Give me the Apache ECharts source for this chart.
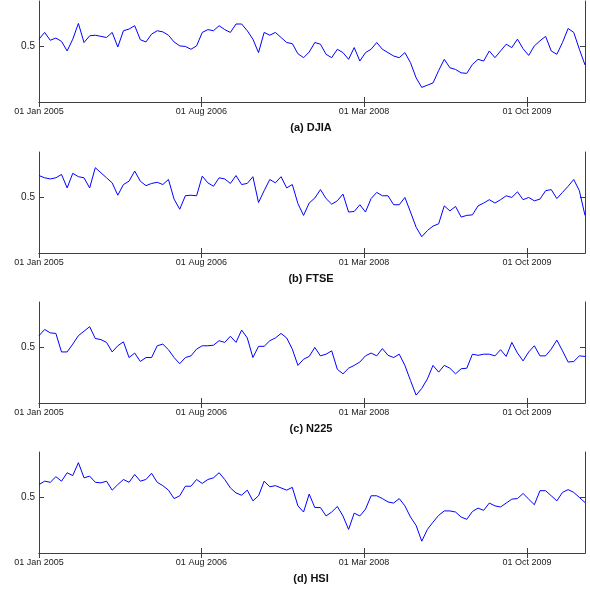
<!DOCTYPE html>
<html>
<head>
<meta charset="utf-8">
<script src="https://cdn.jsdelivr.net/npm/echarts@6/dist/echarts.min.js"></script>
<style>
  html, body { margin: 0; padding: 0; background: #fff; }
  #main { width: 590px; height: 592px; }
</style>
</head>
<body>
<div id="main"></div>
<script>
  // sampled every 20 days starting 01 Jan 2005
  var startDate = [2005, 0, 1];
  var stepDays = 20;

  var djia = [0.56, 0.62, 0.55, 0.57, 0.54, 0.455, 0.56, 0.70, 0.53, 0.59,
    0.595, 0.585, 0.575, 0.62, 0.49, 0.635, 0.65, 0.68, 0.555, 0.535,
    0.605, 0.635, 0.625, 0.595, 0.535, 0.50, 0.495, 0.47, 0.50, 0.62,
    0.645, 0.635, 0.68, 0.645, 0.62, 0.695, 0.695, 0.635, 0.56, 0.44,
    0.62, 0.595, 0.62, 0.575, 0.53, 0.52, 0.43, 0.395, 0.445, 0.53,
    0.515, 0.425, 0.395, 0.47, 0.44, 0.38, 0.485, 0.365, 0.44, 0.47,
    0.53, 0.47, 0.44, 0.41, 0.395, 0.44, 0.35, 0.215, 0.13, 0.15,
    0.17, 0.28, 0.38, 0.305, 0.29, 0.26, 0.255, 0.335, 0.38, 0.365,
    0.455, 0.395, 0.455, 0.515, 0.485, 0.56, 0.475, 0.415, 0.50, 0.545,
    0.585, 0.455, 0.425, 0.53, 0.655, 0.62, 0.47, 0.33];

  var ftse = [0.69, 0.67, 0.66, 0.67, 0.70, 0.58, 0.71, 0.68, 0.67, 0.58,
    0.76, 0.715, 0.67, 0.625, 0.515, 0.61, 0.64, 0.73, 0.64, 0.60,
    0.62, 0.63, 0.61, 0.655, 0.48, 0.39, 0.51, 0.515, 0.51, 0.685,
    0.625, 0.595, 0.67, 0.66, 0.62, 0.69, 0.61, 0.62, 0.68, 0.45,
    0.555, 0.655, 0.625, 0.68, 0.58, 0.61, 0.44, 0.335, 0.445, 0.49,
    0.565, 0.485, 0.435, 0.465, 0.525, 0.365, 0.37, 0.43, 0.365, 0.485,
    0.54, 0.51, 0.51, 0.43, 0.43, 0.495, 0.365, 0.23, 0.145, 0.20,
    0.24, 0.26, 0.42, 0.375, 0.415, 0.32, 0.335, 0.34, 0.42, 0.445,
    0.475, 0.445, 0.475, 0.51, 0.495, 0.545, 0.475, 0.495, 0.465, 0.48,
    0.555, 0.565, 0.485, 0.54, 0.595, 0.655, 0.555, 0.335];

  var n225 = [0.60, 0.655, 0.625, 0.62, 0.455, 0.455, 0.525, 0.60, 0.64, 0.68,
    0.575, 0.565, 0.54, 0.455, 0.51, 0.545, 0.405, 0.445, 0.37, 0.405,
    0.405, 0.51, 0.525, 0.475, 0.405, 0.35, 0.405, 0.42, 0.48, 0.51,
    0.51, 0.515, 0.555, 0.54, 0.595, 0.54, 0.65, 0.58, 0.405, 0.505,
    0.505, 0.555, 0.58, 0.62, 0.58, 0.48, 0.335, 0.39, 0.415, 0.495,
    0.42, 0.435, 0.465, 0.30, 0.26, 0.31, 0.335, 0.365, 0.42, 0.445,
    0.42, 0.485, 0.425, 0.405, 0.435, 0.335, 0.20, 0.07, 0.13, 0.215,
    0.335, 0.275, 0.335, 0.31, 0.26, 0.305, 0.31, 0.435, 0.425, 0.435,
    0.435, 0.42, 0.475, 0.415, 0.54, 0.445, 0.375, 0.455, 0.51, 0.42,
    0.42, 0.48, 0.56, 0.465, 0.365, 0.37, 0.42, 0.415];

  var hsi = [0.61, 0.64, 0.63, 0.68, 0.64, 0.715, 0.69, 0.805, 0.67, 0.685,
    0.63, 0.625, 0.64, 0.56, 0.61, 0.655, 0.63, 0.70, 0.64, 0.655,
    0.71, 0.63, 0.60, 0.56, 0.485, 0.51, 0.595, 0.595, 0.655, 0.62,
    0.655, 0.67, 0.715, 0.655, 0.58, 0.535, 0.515, 0.56, 0.465, 0.51,
    0.64, 0.59, 0.60, 0.58, 0.56, 0.585, 0.42, 0.365, 0.525, 0.405,
    0.405, 0.33, 0.365, 0.415, 0.33, 0.21, 0.355, 0.33, 0.39, 0.51,
    0.51, 0.485, 0.455, 0.445, 0.485, 0.42, 0.32, 0.245, 0.105, 0.21,
    0.275, 0.335, 0.375, 0.375, 0.365, 0.32, 0.30, 0.37, 0.40, 0.38,
    0.445, 0.42, 0.41, 0.445, 0.48, 0.485, 0.53, 0.48, 0.43, 0.555,
    0.555, 0.51, 0.465, 0.54, 0.565, 0.54, 0.495, 0.45];

  var captions = ['(a) DJIA', '(b) FTSE', '(c) N225', '(d) HSI'];
  var tickDates = [[2005, 0, 1], [2006, 7, 1], [2008, 2, 1], [2009, 9, 1]];
  var yTicks = [0.5];

  var months = ['Jan','Feb','Mar','Apr','May','Jun','Jul','Aug','Sep','Oct','Nov','Dec'];
  function fmtDate(v) {
    var d = new Date(v);
    var dd = d.getDate() < 10 ? '0' + d.getDate() : '' + d.getDate();
    return dd + ' ' + months[d.getMonth()] + ' ' + d.getFullYear();
  }

  var allSeries = [djia, ftse, n225, hsi];
  var tickTs = tickDates.map(function (t) { return new Date(t[0], t[1], t[2]).getTime(); });
  var xMin = new Date(startDate[0], startDate[1], startDate[2]).getTime();
  var xMax = new Date(startDate[0], startDate[1], startDate[2] + stepDays * (djia.length - 1)).getTime();

  var myChart = echarts.init(document.getElementById('main'));
  var tops = [1, 152, 302, 452];
  var gridH = 101;
  var lineCol = '#404040';
  var labelFont = '"Liberation Sans", Arial, sans-serif';
  var grid = [], xAxis = [], yAxis = [], series = [], graphic = [];

  tops.forEach(function (top, k) {
    grid.push({ left: 39, right: 5, top: top, height: gridH });
    // bottom x axis with labels (timestamps on a value axis)
    xAxis.push({
      type: 'value', gridIndex: k, min: xMin, max: xMax, position: 'bottom',
      axisLine: { lineStyle: { color: lineCol, width: 1 } },
      axisTick: { inside: true, length: 5, customValues: tickTs, lineStyle: { color: lineCol } },
      axisLabel: { customValues: tickTs, formatter: fmtDate, margin: 5, color: '#1a1a1a',
        fontFamily: labelFont, fontSize: 9 },
      splitLine: { show: false }
    });
    // top mirror
    xAxis.push({
      type: 'value', gridIndex: k, min: xMin, max: xMax, position: 'top',
      axisLine: { lineStyle: { color: lineCol, width: 1 } },
      axisTick: { inside: true, length: 5, customValues: tickTs, lineStyle: { color: lineCol } },
      axisLabel: { show: false },
      splitLine: { show: false }
    });
    yAxis.push({
      type: 'value', gridIndex: k, min: 0, max: 0.9, position: 'left',
      axisLine: { show: true, lineStyle: { color: lineCol, width: 1 } },
      axisTick: { inside: true, length: 5, customValues: yTicks, lineStyle: { color: lineCol } },
      axisLabel: { customValues: yTicks, margin: 4, color: '#1a1a1a',
        fontFamily: labelFont, fontSize: 10 },
      splitLine: { show: false }
    });
    yAxis.push({
      type: 'value', gridIndex: k, min: 0, max: 0.9, position: 'right',
      axisLine: { show: true, lineStyle: { color: lineCol, width: 1 } },
      axisTick: { inside: true, length: 5, customValues: yTicks, lineStyle: { color: lineCol } },
      axisLabel: { show: false },
      splitLine: { show: false }
    });
    var pts = allSeries[k].map(function (v, i) {
      return [new Date(startDate[0], startDate[1], startDate[2] + stepDays * i).getTime(), v];
    });
    series.push({
      type: 'line', xAxisIndex: 2 * k, yAxisIndex: 2 * k, data: pts,
      showSymbol: false, symbol: 'none', animation: false,
      lineStyle: { color: '#0000ff', width: 1 }
    });
    graphic.push({
      type: 'text', x: 311, y: top + gridH + 26,
      style: { text: captions[k], fill: '#111', align: 'center', verticalAlign: 'middle',
        font: 'bold 11px "Liberation Sans", Arial' }
    });
  });

  myChart.setOption({
    animation: false,
    grid: grid, xAxis: xAxis, yAxis: yAxis, series: series, graphic: graphic
  });
</script>
</body>
</html>
